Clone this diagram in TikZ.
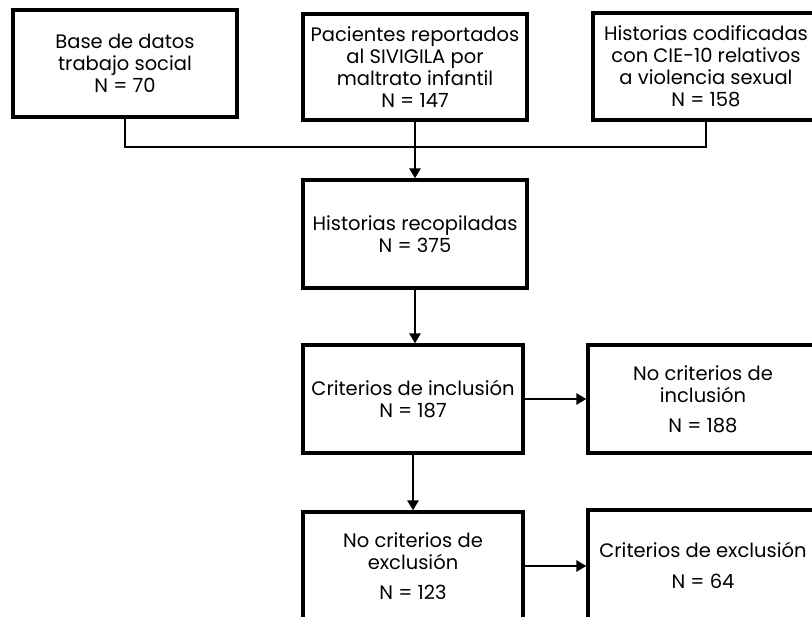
\documentclass[tikz,border=0pt]{standalone}
\usepackage{fontspec}
\setmainfont{Poppins}
\usetikzlibrary{arrows.meta}
\begin{document}
\begin{tikzpicture}[x=1pt,y=-1pt,
  box/.style={draw=black, line width=3.2pt, align=center, inner sep=0pt,
    font=\fontsize{19.5}{22}\selectfont},
  conn/.style={line width=2.4pt},
  arr/.style={conn, -{Triangle[length=10pt,width=11pt]}}]
\useasboundingbox (0,0) rectangle (812,617);
\clip (0,0) rectangle (812,617);
\node[box, minimum width=224pt, minimum height=107pt] (b1) at (125,63.5)
  {Base de datos\\trabajo social\\N = 70};
\node[box, minimum width=224pt, minimum height=106pt] (b2) at (415,67)
  {Pacientes reportados\\al SIVIGILA por\\maltrato infantil\\N = 147};
\node[box, minimum width=226pt, minimum height=107pt] (b3) at (706,66.5)
  {Historias codificadas\\con CIE-10 relativos\\a violencia sexual\\N = 158};
\node[box, minimum width=224pt, minimum height=108pt] (b4) at (415,234)
  {Historias recopiladas\\N = 375};
\node[box, minimum width=220pt, minimum height=108pt] (b5) at (413,399)
  {Criterios de inclusión\\N = 187};
\node[box, minimum width=230pt, minimum height=108pt] (b6) at (703,399)
  {No criterios de\\inclusión\\[8pt]N = 188};
\node[box, minimum width=220pt, minimum height=108pt] (b7) at (413,566)
  {No criterios de\\exclusión\\[8pt]N = 123};
\node[box, minimum width=230pt, minimum height=110pt] (b8) at (703,565)
  {Criterios de exclusión\\[9pt]N = 64};
\coordinate (j) at (415,147);
\draw[conn] (b1.south) -- (b1.south |- j) -- (b3.south |- j) -- (b3.south);
\draw[arr] (b2.south) -- (b4.north);
\draw[arr] (b4.south) -- (b4.south |- b5.north);
\draw[arr] (b5.east) -- (b5.east -| b6.west);
\draw[arr] (b5.south) -- (b7.north);
\draw[arr] (b7.east) -- (b7.east -| b8.west);
\end{tikzpicture}
\end{document}
